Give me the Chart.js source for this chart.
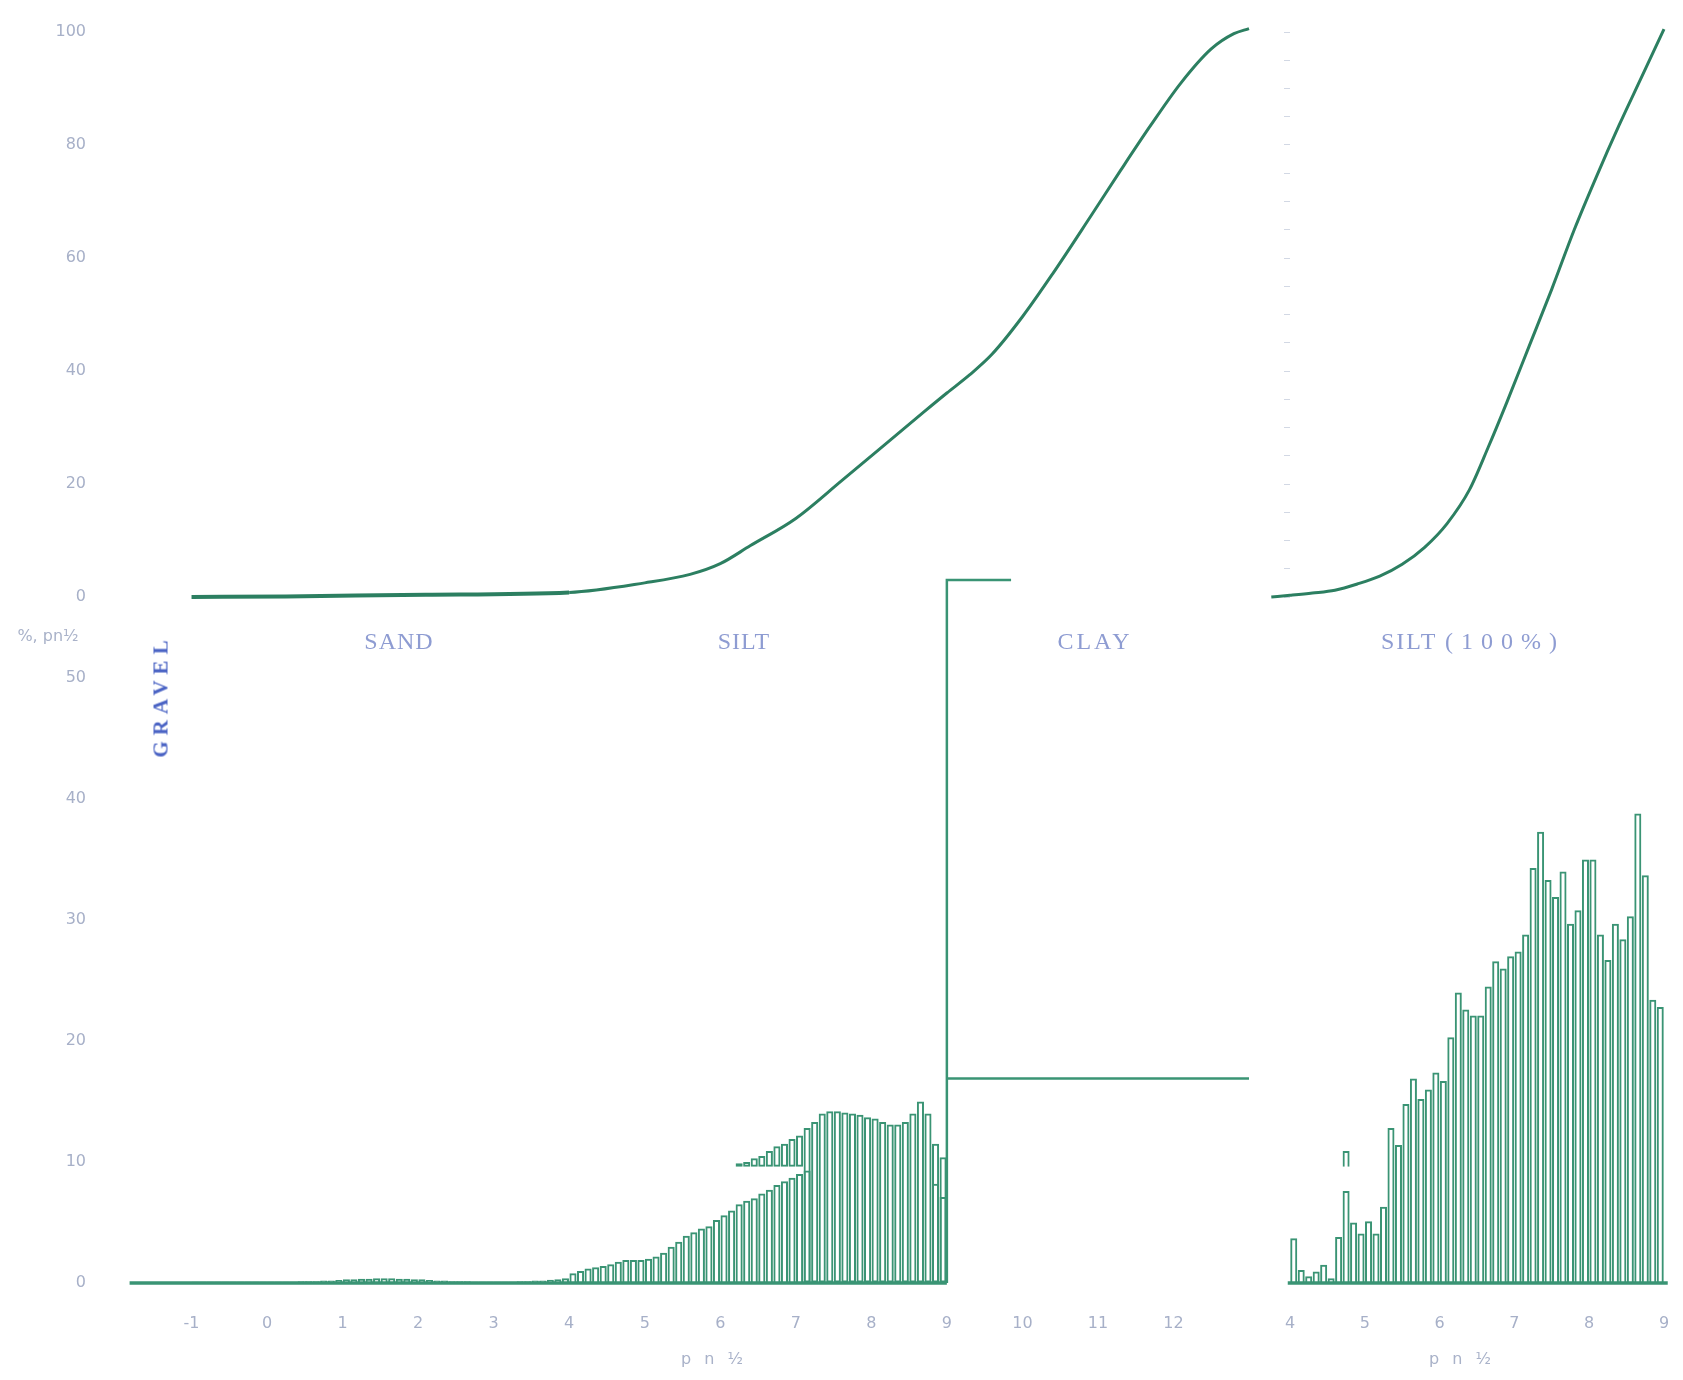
<!DOCTYPE html>
<html>
<head>
<meta charset="utf-8">
<script src="https://cdn.jsdelivr.net/npm/chart.js@4.4.1/dist/chart.umd.min.js"></script>
<style>
html,body{margin:0;padding:0;background:#ffffff;}
body{width:1683px;height:1380px;position:relative;overflow:hidden;}
canvas{position:absolute;}
.lbl{position:absolute;transform:translate(-50%,-50%);white-space:nowrap;}
.zone{font-family:"Liberation Serif",serif;font-size:24px;color:#8e9cd2;letter-spacing:1px;}
.ax{font-family:"DejaVu Sans",sans-serif;font-size:16px;color:#a9b2c9;}
.gravel{font-family:"Liberation Serif",serif;font-weight:bold;font-size:21px;color:#4a63c4;letter-spacing:6px;transform:translate(-50%,-50%) rotate(-90deg);}
</style>
</head>
<body>
<canvas id="cTL" width="1260" height="640" style="left:0;top:0"></canvas>
<canvas id="cBL" width="1260" height="840" style="left:0;top:540px"></canvas>
<canvas id="cTR" width="433" height="640" style="left:1250px;top:0"></canvas>
<canvas id="cBR" width="433" height="840" style="left:1250px;top:540px"></canvas>

<div class="lbl ax" style="left:48px;top:635px">%, pn½</div>
<div class="lbl gravel" style="left:161px;top:696px">GRAVEL</div>
<div class="lbl zone" style="left:399px;top:641px">SAND</div>
<div class="lbl zone" style="left:744px;top:641px">SILT</div>
<div class="lbl zone" style="left:1095px;top:641px;letter-spacing:3px">CLAY</div>
<div class="lbl zone" style="left:1473px;top:641px;letter-spacing:2px">SILT <span style="letter-spacing:8px">(100%)</span></div>
<div class="lbl ax" style="left:714px;top:1358px;letter-spacing:4px">p n ½</div>
<div class="lbl ax" style="left:1462px;top:1358px;letter-spacing:4px">p n ½</div>

<script>
// ---------- data ----------
const BIN = 0.1; // phi-bin width of the histograms

// cumulative curve, whole sample (top left)
const cumPhi = [-1.0, 0.25, 2.1, 4.0, 5.0, 5.6, 6.0, 6.4, 7.0, 7.6, 8.1, 8.7, 9.0, 9.3, 9.6, 10.0, 10.4, 10.9, 11.3, 11.7, 12.1, 12.5, 12.8, 13.0];
const cumPct = [0, 0.1, 0.4, 0.8, 2.5, 4.0, 5.9, 9.1, 13.9, 20.5, 26.1, 32.8, 36.1, 39.3, 43.0, 49.6, 57.2, 67.3, 75.5, 83.5, 91.0, 97.0, 99.7, 100.6];

// cumulative curve, silt recalculated to 100% (top right)
const siltCumPhi = [3.75, 4.0, 4.3, 4.6, 4.9, 5.2, 5.5, 5.8, 6.1, 6.4, 6.65, 6.9, 7.2, 7.5, 7.8, 8.1, 8.4, 8.7, 9.0];
const siltCumPct = [0, 0.3, 0.7, 1.2, 2.3, 3.7, 5.8, 8.8, 13.0, 19.0, 26.5, 34.5, 44.5, 54.5, 65.0, 74.5, 83.5, 92.0, 100.5];

// histogram, whole sample (bottom left)
const lowBins = [-1.0,-0.9,-0.8,-0.7,-0.6,-0.5,-0.4,-0.3,-0.2,-0.1,0.0,0.1,0.2,0.3,0.4,0.5,0.6,0.7,0.8,0.9,1.0,1.1,1.2,1.3,1.4,1.5,1.6,1.7,1.8,1.9,2.0,2.1,2.2,2.3,2.4,2.5,2.6,2.7,2.8,2.9,3.0,3.1,3.2,3.3,3.4,3.5,3.6];
const lowPct = [0.1,0.1,0.1,0.1,0.1,0.1,0.1,0.1,0.1,0.1,0.1,0.1,0.1,0.1,0.15,0.15,0.15,0.2,0.2,0.25,0.3,0.3,0.35,0.35,0.4,0.4,0.4,0.35,0.35,0.3,0.3,0.25,0.2,0.2,0.15,0.15,0.15,0.1,0.1,0.1,0.1,0.1,0.1,0.15,0.15,0.2,0.2];

const siltBinsA = [3.7,3.8,3.9,4.0,4.1,4.2,4.3,4.4,4.5,4.6,4.7,4.8,4.9,5.0,5.1,5.2,5.3,5.4,5.5,5.6,5.7,5.8,5.9,6.0,6.1,6.2,6.3,6.4,6.5,6.6,6.7,6.8,6.9,7.0,7.1,8.8,8.9];
const siltPctA = [0.26,0.3,0.4,0.8,1.0,1.2,1.3,1.4,1.55,1.75,1.9,1.9,1.9,2.0,2.2,2.5,3.0,3.4,3.9,4.2,4.5,4.7,5.2,5.6,6.0,6.5,6.8,7.0,7.4,7.7,8.1,8.4,8.7,9.0,9.3,8.2,7.1];

const siltBinsB = [6.2,6.3,6.4,6.5,6.6,6.7,6.8,6.9,7.0,7.1,7.2,7.3,7.4,7.5,7.6,7.7,7.8,7.9,8.0,8.1,8.2,8.3,8.4,8.5,8.6,8.7,8.8,8.9];
const siltTopB = [9.9,10.0,10.3,10.5,10.9,11.3,11.5,11.9,12.2,12.8,13.3,14.0,14.2,14.2,14.1,14.0,13.9,13.7,13.6,13.3,13.1,13.1,13.3,14.0,15.0,14.0,11.5,10.4];
const siltBaseB = [9.6,9.6,9.6,9.6,9.6,9.6,9.6,9.6,9.6,0,0,0,0,0,0,0,0,0,0,0,0,0,0,0,0,0,0,0];

const clayPhi = [9, 13];
const clayPct = [16.9, 16.9];
const markPhi = [9, 9, 9.85];
const markPct = [0, 58.1, 58.1];
const baseLPhi = [-1.82, 9.0];
const baseLPct = [0, 0];

// histogram, silt 100% (bottom right)
const silt100Bins = [4.0,4.1,4.2,4.3,4.4,4.5,4.6,4.7,4.8,4.9,5.0,5.1,5.2,5.3,5.4,5.5,5.6,5.7,5.8,5.9,6.0,6.1,6.2,6.3,6.4,6.5,6.6,6.7,6.8,6.9,7.0,7.1,7.2,7.3,7.4,7.5,7.6,7.7,7.8,7.9,8.0,8.1,8.2,8.3,8.4,8.5,8.6,8.7,8.8,8.9];
const silt100Pct = [3.7,1.07,0.55,0.96,1.5,0.4,3.8,7.6,5.0,4.1,5.1,4.1,6.3,12.8,11.4,14.8,16.9,15.2,16.0,17.4,16.7,20.3,24.0,22.6,22.1,22.1,24.5,26.6,26.0,27.0,27.4,28.8,34.3,37.3,33.3,31.9,34.0,29.7,30.8,35.0,35.0,28.8,26.7,29.7,28.4,30.3,38.8,33.7,23.4,22.8];
const stubBins = [4.7];
const stubBase = [9.6];
const stubTop = [10.9];
const baseRPhi = [3.97, 9.05];
const baseRPct = [0, 0];

// tick labels
const yTicksCum = [0, 20, 40, 60, 80, 100];
const yTicksHist = [0, 10, 20, 30, 40, 50];
const xTicksLeft = [-1, 0, 1, 2, 3, 4, 5, 6, 7, 8, 9, 10, 11, 12];
const xTicksRight = [4, 5, 6, 7, 8, 9];

// ---------- styles ----------
const GREEN_LINE = '#2c7f61';
const GREEN_BAR = '#3a9474';
const TICK_COL = '#a7b0c8';
const NO_COL = 'rgba(0,0,0,0)';
const tickFont = {family: 'DejaVu Sans', size: 16};

const xy = (xs, ys) => xs.map((x, i) => ({x: x, y: ys[i]}));
const binXY = (bins, ys) => bins.map((b, i) => ({x: b + BIN / 2, y: ys[i]}));
const binRange = (bins, lo, hi) => bins.map((b, i) => ({x: b + BIN / 2, y: [lo[i], hi[i]]}));
const setTicks = vals => (s) => { s.ticks = vals.map(v => ({value: v})); };
const fixW = w => (s) => { s.width = w; };
const fixH = h => (s) => { s.height = h; };

const barStyle = {type: 'bar', backgroundColor: NO_COL, borderColor: GREEN_BAR, borderWidth: 2,
                  categoryPercentage: 1, barPercentage: 0.94, grouped: false, clip: false};
const lineStyle = (col, w) => ({type: 'line', borderColor: col, borderWidth: w, pointRadius: 0, fill: false, clip: false, tension: 0});

// label offsets come from an invisible tick mark, so they do not add padding to the chart area
const yAxisGrid = {drawOnChartArea: false, drawTicks: true, tickLength: 28, color: NO_COL, tickColor: NO_COL};
const xAxisGrid = {offset: false, drawOnChartArea: false, drawTicks: true, tickLength: 30, color: NO_COL, tickColor: NO_COL};

const common = {
  responsive: false, animation: false, devicePixelRatio: 1,
  plugins: {legend: {display: false}, tooltip: {enabled: false}}
};

// ---------- top left: cumulative ----------
new Chart(document.getElementById('cTL'), {
  type: 'line',
  data: {datasets: [Object.assign(lineStyle(GREEN_LINE, 3), {
    data: xy(cumPhi, cumPct), cubicInterpolationMode: 'monotone',
    segment: {borderWidth: c => (c.p0.parsed.x < 3.5 ? 4 : 3)}
  })]},
  options: Object.assign({}, common, {
    layout: {padding: {left: 0, top: 32, right: 11, bottom: 43}},
    scales: {
      x: {type: 'linear', min: -2, max: 13, display: false},
      y: {type: 'linear', min: 0, max: 100, afterBuildTicks: setTicks(yTicksCum), afterFit: fixW(116),
          ticks: {color: TICK_COL, font: tickFont, padding: 2, callback: v => String(v)},
          grid: yAxisGrid, border: {display: false}}
    }
  })
});

// ---------- bottom left: histogram ----------
new Chart(document.getElementById('cBL'), {
  type: 'bar',
  data: {datasets: [
    Object.assign(lineStyle(GREEN_BAR, 3.5), {data: xy(baseLPhi, baseLPct)}),
    Object.assign({}, barStyle, {data: binXY(lowBins, lowPct)}),
    Object.assign({}, barStyle, {data: binRange(siltBinsB, siltBaseB, siltTopB), borderSkipped: false}),
    Object.assign({}, barStyle, {data: binXY(siltBinsA, siltPctA)}),
    Object.assign(lineStyle(GREEN_BAR, 2.5), {data: xy(clayPhi, clayPct)}),
    Object.assign(lineStyle(GREEN_BAR, 2.5), {data: xy(markPhi, markPct)})
  ]},
  options: Object.assign({}, common, {
    layout: {padding: {left: 0, top: 17, right: 11, bottom: 0}},
    scales: {
      x: {type: 'linear', min: -2, max: 13, offset: false, afterBuildTicks: setTicks(xTicksLeft), afterFit: fixH(97),
          ticks: {color: TICK_COL, font: tickFont, padding: 1, maxRotation: 0, autoSkip: false, callback: v => String(v)},
          grid: xAxisGrid, border: {display: false}},
      y: {type: 'linear', min: 0, max: 60, afterBuildTicks: setTicks(yTicksHist), afterFit: fixW(116),
          ticks: {color: TICK_COL, font: tickFont, padding: 2, callback: v => String(v)},
          grid: yAxisGrid, border: {display: false}}
    }
  })
});

// ---------- top right: cumulative silt 100% ----------
new Chart(document.getElementById('cTR'), {
  type: 'line',
  data: {datasets: [Object.assign(lineStyle(GREEN_LINE, 3), {data: xy(siltCumPhi, siltCumPct), cubicInterpolationMode: 'monotone'})]},
  options: Object.assign({}, common, {
    layout: {padding: {left: 0, top: 32, right: 19, bottom: 43}},
    scales: {
      x: {type: 'linear', min: 4, max: 9, display: false},
      y: {type: 'linear', min: 0, max: 100, afterFit: fixW(40),
          ticks: {display: false, stepSize: 5},
          grid: {drawOnChartArea: false, drawTicks: true, tickLength: 6, color: '#d2d8e4'},
          border: {display: false}}
    }
  })
});

// ---------- bottom right: histogram silt 100% ----------
new Chart(document.getElementById('cBR'), {
  type: 'bar',
  data: {datasets: [
    Object.assign(lineStyle(GREEN_BAR, 3.5), {data: xy(baseRPhi, baseRPct)}),
    Object.assign({}, barStyle, {data: binXY(silt100Bins, silt100Pct)}),
    Object.assign({}, barStyle, {data: binRange(stubBins, stubBase, stubTop)})
  ]},
  options: Object.assign({}, common, {
    layout: {padding: {left: 40, top: 17, right: 19, bottom: 0}},
    scales: {
      x: {type: 'linear', min: 4, max: 9, offset: false, afterBuildTicks: setTicks(xTicksRight), afterFit: fixH(97),
          ticks: {color: TICK_COL, font: tickFont, padding: 1, maxRotation: 0, autoSkip: false, callback: v => String(v)},
          grid: xAxisGrid, border: {display: false}},
      y: {type: 'linear', min: 0, max: 60, display: false}
    }
  })
});
</script>
</body>
</html>
